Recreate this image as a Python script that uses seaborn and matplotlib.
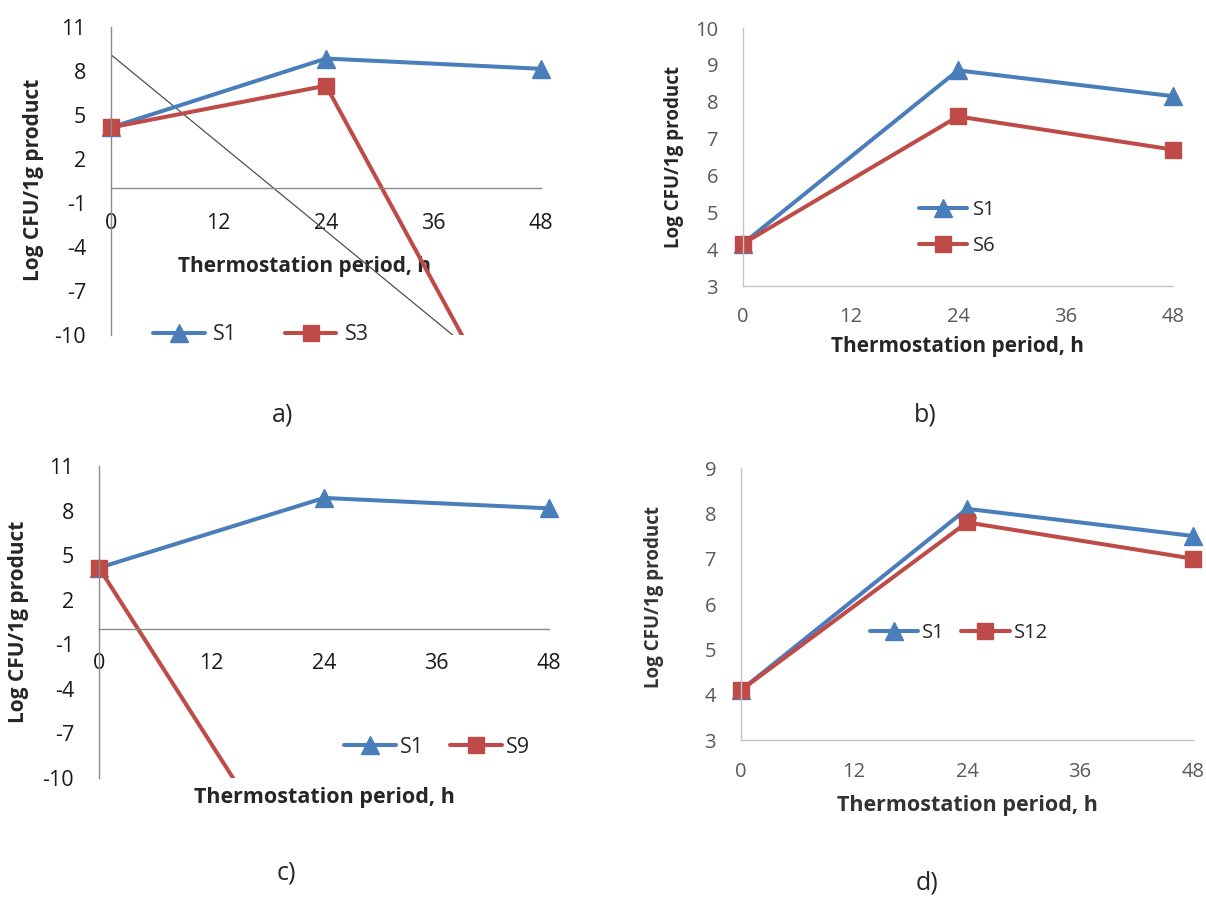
import matplotlib
matplotlib.use('Agg')
import matplotlib.pyplot as plt
import seaborn as sns
from matplotlib.transforms import Bbox, TransformedBbox

# data
hours = [0, 24, 48]
hour_ticks = [0, 12, 24, 36, 48]

s1 = [4.15, 8.85, 8.15]
s3 = [4.15, 7.0, -19.9]
s6 = [4.15, 7.6, 6.7]
s9 = [4.15, -19.6, -19.6]
s1_d = [4.1, 8.1, 7.5]
s12 = [4.1, 7.8, 7.0]

wide_ticks = [-10, -7, -4, -1, 2, 5, 8, 11]
b_ticks = [3, 4, 5, 6, 7, 8, 9, 10]
d_ticks = [3, 4, 5, 6, 7, 8, 9]

blue = '#4A7EBB'
red = '#BE4B48'

sns.set_style('white')
plt.rcParams['font.family'] = ['Open Sans', 'DejaVu Sans']
plt.rcParams['axes.unicode_minus'] = False

W, H = 1206, 897
fig = plt.figure(figsize=(W / 100, H / 100), dpi=100)


def px_axes(left, right, top, bottom):
    return fig.add_axes([left / W, 1 - bottom / H, (right - left) / W, (bottom - top) / H])


def draw(ax, other, other_name, base, ylim, yticks, zero_axis, tick_color, spine_color,
         tick_size, xpad, ypad):
    for vals, name, col, mk, ms in [(base, 'S1', blue, '^', 13.5), (other, other_name, red, 's', 12)]:
        sns.lineplot(x=hours, y=vals, ax=ax, color=col, marker=mk, markersize=ms,
                     markeredgecolor=col, markeredgewidth=1, linewidth=2.9, label=name)
    # clip only at the bottom so edge markers stay whole
    box = TransformedBbox(Bbox([[-0.1, 0.0], [1.1, 1.2]]), ax.transAxes)
    for ln in ax.lines:
        if ln.get_label() in ('S1', other_name):
            ln.set_clip_box(box)
    ax.set_xlim(0, 48)
    ax.set_ylim(*ylim)
    ax.set_xticks(hour_ticks)
    ax.set_yticks(yticks)
    sns.despine(ax=ax)
    for s in ['left', 'bottom']:
        ax.spines[s].set_color(spine_color)
        ax.spines[s].set_linewidth(1.0)
    if zero_axis:
        ax.spines['bottom'].set_position(('data', 0))
    ax.tick_params(axis='x', length=0, pad=xpad, labelsize=tick_size, labelcolor=tick_color)
    ax.tick_params(axis='y', length=0, pad=ypad, labelsize=tick_size, labelcolor=tick_color)


# a)
ax_a = px_axes(111, 541, 27, 335)
sns.regplot(x=hours, y=s3, ax=ax_a, scatter=False, ci=None, truncate=True,
            color='#505050', line_kws={'linewidth': 0.9})
draw(ax_a, s3, 'S3', s1, (-10, 11), wide_ticks, True, '#1a1a1a', '#8a8a8a', 15.5, 18, 18)
ax_a.legend(loc='center', bbox_to_anchor=(0.349, 0.0), ncol=2, frameon=False,
            fontsize=15.5, handlelength=2.4, handletextpad=0.4, columnspacing=2.2)
ax_a.set_xlabel('Thermostation period, h', fontsize=15, fontweight='bold', va='center')
ax_a.xaxis.set_label_coords(0.451, 0.221)
ax_a.set_ylabel('Log CFU/1g product', fontsize=15, fontweight='bold', va='center')
ax_a.yaxis.set_label_coords(-0.181, 0.503)

# b)
ax_b = px_axes(743, 1173, 28, 286)
draw(ax_b, s6, 'S6', s1, (3, 10), b_ticks, False, '#595959', '#c4c4c4', 14.5, 15, 18)
ax_b.legend(loc='center', bbox_to_anchor=(0.498, 0.225), ncol=1, frameon=False,
            fontsize=14.5, handlelength=2.4, handletextpad=0.3, labelspacing=0.8)
ax_b.set_xlabel('Thermostation period, h', fontsize=15, fontweight='bold', va='center')
ax_b.xaxis.set_label_coords(0.498, -0.236)
ax_b.set_ylabel('Log CFU/1g product', fontsize=13.5, fontweight='bold', va='center')
ax_b.yaxis.set_label_coords(-0.160, 0.5)

# c)
ax_c = px_axes(99, 549, 466, 778)
draw(ax_c, s9, 'S9', s1, (-10, 11), wide_ticks, True, '#1a1a1a', '#8a8a8a', 15.5, 17, 18)
ax_c.legend(loc='center', bbox_to_anchor=(0.752, 0.099), ncol=2, frameon=False,
            fontsize=15.5, handlelength=2.4, handletextpad=0.2, columnspacing=1.2)
ax_c.set_xlabel('Thermostation period, h', fontsize=15.5, fontweight='bold', va='center')
ax_c.xaxis.set_label_coords(0.5, -0.064)
ax_c.set_ylabel('Log CFU/1g product', fontsize=15, fontweight='bold', va='center')
ax_c.yaxis.set_label_coords(-0.178, 0.5)

# d)
ax_d = px_axes(741, 1193, 468, 740)
draw(ax_d, s12, 'S12', s1_d, (3, 9), d_ticks, False, '#595959', '#c4c4c4', 14.5, 16, 18)
ax_d.legend(loc='center', bbox_to_anchor=(0.482, 0.393), ncol=2, frameon=False,
            fontsize=14.5, handlelength=2.4, handletextpad=0.2, columnspacing=0.8)
ax_d.set_xlabel('Thermostation period, h', fontsize=15.5, fontweight='bold', va='center',
                color='#333333')
ax_d.xaxis.set_label_coords(0.502, -0.239)
ax_d.set_ylabel('Log CFU/1g product', fontsize=13.5, fontweight='bold', va='center',
                color='#333333')
ax_d.yaxis.set_label_coords(-0.192, 0.526)

for lab, x, y in [('a)', 283, 415), ('b)', 925, 415), ('c)', 286, 873), ('d)', 927, 883)]:
    fig.text(x / W, 1 - y / H, lab, ha='center', va='center', fontsize=18)

fig.savefig('out.png', dpi=100)
